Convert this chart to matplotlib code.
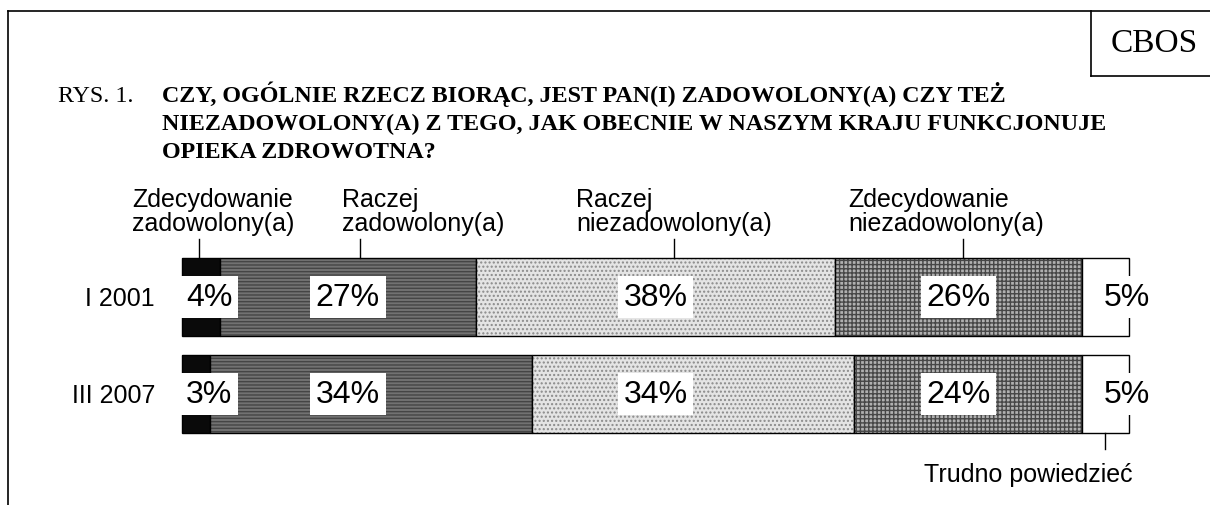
import numpy as np
import matplotlib
matplotlib.use("Agg")
import matplotlib.pyplot as plt
from matplotlib.lines import Line2D

W, H = 1210, 506

rows = ["I 2001", "III 2007"]
categories = ["Zdecydowanie\nzadowolony(a)", "Raczej\nzadowolony(a)",
              "Raczej\nniezadowolony(a)", "Zdecydowanie\nniezadowolony(a)",
              "Trudno powiedzieć"]
values = [
    [4, 27, 38, 26, 5],   # I 2001
    [3, 34, 34, 24, 5],   # III 2007
]
title_lines = ["CZY, OGÓLNIE RZECZ BIORĄC, JEST PAN(I) ZADOWOLONY(A) CZY TEŻ",
               "NIEZADOWOLONY(A) Z TEGO, JAK OBECNIE W NASZYM KRAJU FUNKCJONUJE",
               "OPIEKA ZDROWOTNA?"]

# segment styling: fill, hatch, hatch colour
faces = ["#0a0a0a", "#727272", "#e4e4e4", "#b0b0b0", "#ffffff"]
hatches = [None, "-----", "....", "++++", None]
hatch_cols = [None, "#454545", "#8a8a8a", "#474747", None]

SANS = ["Liberation Sans", "DejaVu Sans"]
SERIF = ["Liberation Serif", "DejaVu Serif"]


def fx(x):
    return x / W


def fy(y):
    return 1 - y / H


fig = plt.figure(figsize=(W / 100, H / 100), dpi=100)
fig.patch.set_facecolor("white")

# frame lines and CBOS box
for xs, ys in [([8, W], [12, 12]), ([8, 8], [12, H]),
               ([1091, 1091], [12, 77]), ([1091, W], [77, 77])]:
    fig.add_artist(Line2D([fx(v) for v in xs], [fy(v) for v in ys],
                          color="black", lw=1.2))
fig.text(fx(1154), fy(44), "CBOS", family=SERIF, fontsize=24,
         ha="center", va="center")

# title
fig.text(fx(58), fy(102), "RYS. 1.", family=SERIF, fontsize=17.3,
         ha="left", va="baseline")
for i, line in enumerate(title_lines):
    fig.text(fx(162), fy(102 + 28 * i), line, family=SERIF, fontsize=17.3,
             fontweight="bold", ha="left", va="baseline")

ax = fig.add_axes([fx(182), fy(434), (1129 - 182) / W, (434 - 259) / H])
ax.set_xlim(0, 100)
ax.set_ylim(1.4, -0.4)
ax.axis("off")

vals = np.array(values, dtype=float)
lefts = np.cumsum(vals, axis=1) - vals
for r in range(len(rows)):
    for c in range(vals.shape[1]):
        ax.barh(r, vals[r, c], left=lefts[r, c], height=0.8,
                color=faces[c], edgecolor="none", linewidth=0)
        if hatches[c]:
            ax.barh(r, vals[r, c], left=lefts[r, c], height=0.8,
                    color="none", edgecolor=hatch_cols[c], hatch=hatches[c],
                    linewidth=0)
        outline = ax.barh(r, vals[r, c], left=lefts[r, c], height=0.8,
                          color="none", edgecolor="black", linewidth=1.0)
        for p in outline:
            p.set_clip_on(False)

# percent labels (columns follow the first row)
centers = lefts[0] + vals[0] / 2
box = dict(boxstyle="square,pad=0.18", facecolor="white", edgecolor="none")
for r in range(len(rows)):
    for c in range(vals.shape[1]):
        txt = f"{int(values[r][c])}%"
        if c == 0:
            x, ha = 0.45, "left"
        elif c == vals.shape[1] - 1:
            x, ha = 99.8, "center"
        else:
            x, ha = centers[c], "center"
        ax.text(x, r, txt, family=SANS, fontsize=23, ha=ha, va="center",
                bbox=box, zorder=5, clip_on=False)
    fig.text(fx(155), fy(299 + 97 * r), rows[r], family=SANS, fontsize=18,
             ha="right", va="center")

# category labels with leader lines (leader sits between both rows' centres)
leaders = (lefts + vals / 2).mean(axis=0)
label_left = [132, 342, 576, 848]
for c in range(4):
    l1, l2 = categories[c].split("\n")
    fig.text(fx(label_left[c]), fy(207), l1, family=SANS, fontsize=18,
             ha="left", va="baseline")
    fig.text(fx(label_left[c]), fy(231), l2, family=SANS, fontsize=18,
             ha="left", va="baseline")
    ax.plot([leaders[c], leaders[c]], [-0.4, -0.6], color="black", lw=1.0,
            clip_on=False)

last = lefts[1, -1] + vals[1, -1] / 2
ax.plot([last, last], [1.4, 1.565], color="black", lw=1.0, clip_on=False)
fig.text(fx(1028), fy(482), categories[-1], family=SANS, fontsize=18,
         ha="center", va="baseline")

fig.savefig("out.png", dpi=100)
